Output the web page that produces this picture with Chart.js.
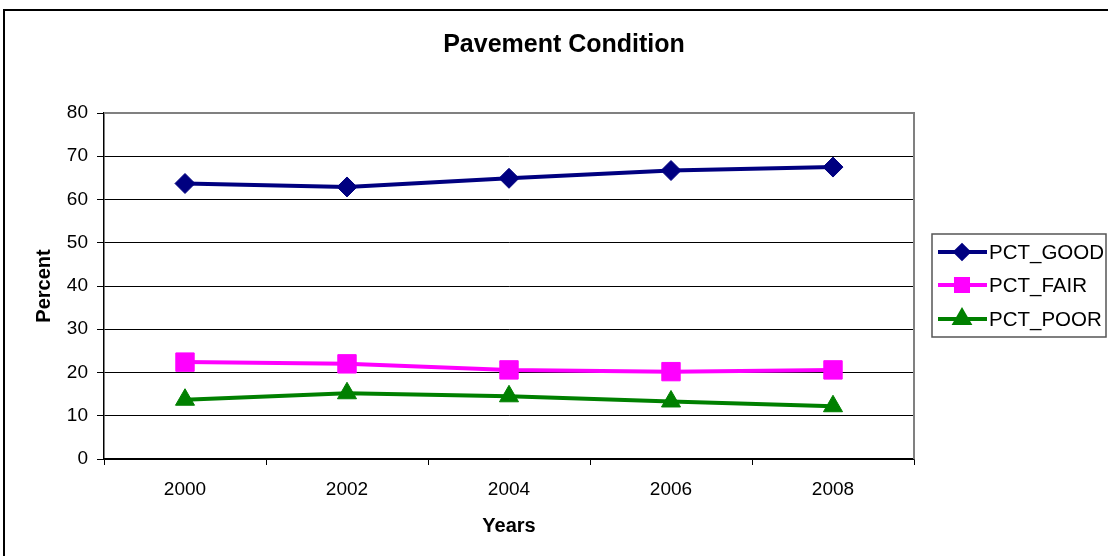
<!DOCTYPE html>
<html>
<head>
<meta charset="utf-8">
<script src="https://cdn.jsdelivr.net/npm/chart.js@4/dist/chart.umd.min.js"></script>
<style>
  html, body { margin: 0; padding: 0; background: #fff; }
  #wrap { width: 1108px; height: 556px; }
</style>
</head>
<body>
<div id="wrap"><canvas id="chart" width="1108" height="556"></canvas></div>
<script>
// data
const TITLE = 'Pavement Condition'
const years = ['2000', '2002', '2004', '2006', '2008']
const pctGood = [63.7, 62.9, 64.9, 66.7, 67.5]
const pctFair = [22.4, 22.0, 20.6, 20.2, 20.6]
const pctPoor = [13.7, 15.2, 14.5, 13.3, 12.2]
const yTicks = [0, 10, 20, 30, 40, 50, 60, 70, 80]

const FONT = 'Arial, "Liberation Sans", sans-serif'

// title, legend box and frame drawn by hand
const excelBits = {
    id: 'excelBits',
    beforeDraw(chart) {
        const ctx = chart.ctx
        ctx.save()
        ctx.strokeStyle = '#000'
        ctx.lineWidth = 2
        ctx.strokeRect(4, 10, 1110, 560)
        ctx.restore()
    },
    beforeDatasetsDraw(chart) {
        const ctx = chart.ctx
        const a = chart.chartArea
        ctx.save()
        ctx.strokeStyle = '#808080'
        ctx.lineWidth = 2
        ctx.beginPath()
        ctx.moveTo(a.left, a.top)
        ctx.lineTo(a.right, a.top)
        ctx.lineTo(a.right, a.bottom)
        ctx.stroke()
        ctx.restore()
    },
    afterDraw(chart) {
        const ctx = chart.ctx
        ctx.save()
        ctx.fillStyle = '#000'
        ctx.font = 'bold 25px ' + FONT
        ctx.textAlign = 'center'
        ctx.textBaseline = 'middle'
        ctx.fillText(TITLE, 564, 45)

        // legend
        ctx.strokeStyle = '#555'
        ctx.lineWidth = 1.5
        ctx.strokeRect(932, 234, 174, 103)
        const rows = [252, 285, 319]
        const sizes = [6.5, 8.5, 8]
        ctx.font = '20.5px ' + FONT
        ctx.textAlign = 'left'
        chart.data.datasets.forEach((ds, i) => {
            const y = rows[i]
            ctx.strokeStyle = ds.borderColor
            ctx.lineWidth = 4
            ctx.beginPath()
            ctx.moveTo(938, y)
            ctx.lineTo(987, y)
            ctx.stroke()
            ctx.fillStyle = ds.borderColor
            Chart.helpers.drawPoint(ctx, {
                pointStyle: ds.pointStyle,
                radius: sizes[i],
                borderWidth: 1
            }, 962, y)
            ctx.fill()
            ctx.fillStyle = '#000'
            ctx.fillText(ds.label, 989, y + 1)
        })
        ctx.restore()
    }
}

const chart = document.querySelector('#chart').getContext('2d')

new Chart(chart, {
    type: 'line',
    data: {
        labels: years,
        datasets: [
            {
                label: 'PCT_GOOD',
                data: pctGood,
                borderColor: '#000080',
                backgroundColor: '#000080',
                borderWidth: 4,
                pointStyle: 'rectRot',
                pointRadius: 10,
                pointBorderWidth: 1
            },
            {
                label: 'PCT_FAIR',
                data: pctFair,
                borderColor: '#ff00ff',
                backgroundColor: '#ff00ff',
                borderWidth: 4,
                pointStyle: 'rect',
                pointRadius: 13,
                pointBorderWidth: 1
            },
            {
                label: 'PCT_POOR',
                data: pctPoor,
                borderColor: '#008000',
                backgroundColor: '#008000',
                borderWidth: 4,
                pointStyle: 'triangle',
                pointRadius: 11,
                pointBorderWidth: 1
            }
        ]
    },
    options: {
        responsive: false,
        animation: false,
        layout: { padding: { top: 113, right: 194, left: 0, bottom: 0 } },
        plugins: {
            legend: { display: false },
            title: { display: false },
            tooltip: { enabled: false }
        },
        scales: {
            x: {
                offset: true,
                grid: {
                    offset: true,
                    drawOnChartArea: false,
                    drawTicks: true,
                    tickLength: 6,
                    color: '#000'
                },
                border: { color: '#000', width: 1.5 },
                ticks: { color: '#000', font: { family: FONT, size: 19 }, padding: 13 },
                title: {
                    display: true,
                    text: 'Years',
                    color: '#000',
                    font: { family: FONT, size: 20, weight: 'bold' },
                    padding: { top: 0, bottom: 18 }
                },
                afterFit: s => { s.height = 97 }
            },
            y: {
                min: 0,
                max: 80,
                afterBuildTicks: s => { s.ticks = yTicks.map(v => ({ value: v })) },
                grid: { color: '#000', tickLength: 7 },
                border: { color: '#000', width: 1.5 },
                ticks: { color: '#000', font: { family: FONT, size: 19 }, padding: 9 },
                title: {
                    display: true,
                    text: 'Percent',
                    color: '#000',
                    font: { family: FONT, size: 20, weight: 'bold' },
                    padding: { top: 32, bottom: 0 }
                },
                afterFit: s => { s.width = 104 }
            }
        }
    },
    plugins: [excelBits]
})
</script>
</body>
</html>
